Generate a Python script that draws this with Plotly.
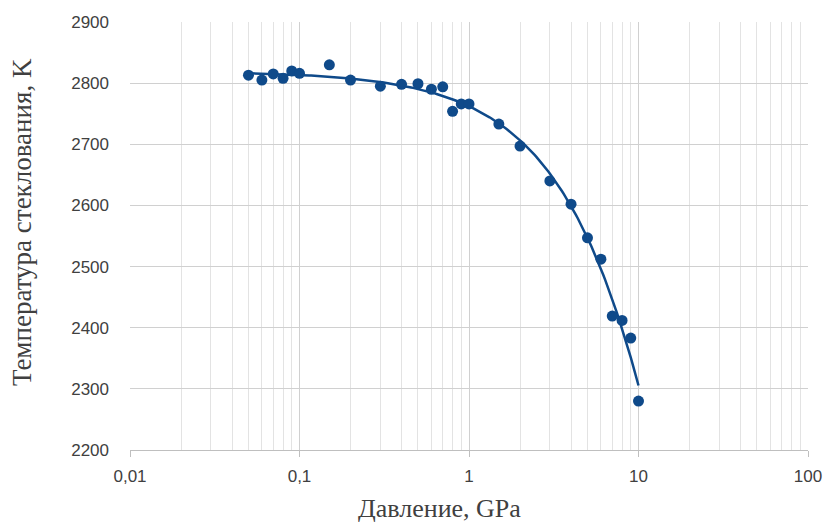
import numpy as np
import plotly.graph_objects as go

pressure = [0.05, 0.06, 0.07, 0.08, 0.09, 0.1, 0.15, 0.2, 0.3, 0.4, 0.5, 0.6, 0.7,
            0.8, 0.9, 1.0, 1.5, 2, 3, 4, 5, 6, 7, 8, 9, 10]
temperature = [2813, 2805, 2815, 2808, 2820, 2816, 2830, 2805, 2795, 2798, 2799, 2790, 2794,
               2754, 2766, 2766, 2733, 2697, 2640, 2602, 2547, 2512, 2419, 2412, 2383, 2280]
x_tickvals = [0.01, 0.1, 1, 10, 100]
x_ticktext = ["0,01", "0,1", "1", "10", "100"]
y_tickvals = [2200, 2300, 2400, 2500, 2600, 2700, 2800, 2900]
x_title = "Давление, GPa"
y_title = "Температура стеклования, K"

color = "#0f4a8a"

# polynomial (order 2) trendline fitted to the data
coef = np.polyfit(pressure, temperature, 2)
xs = np.logspace(np.log10(min(pressure)), np.log10(max(pressure)), 200)
ys = np.polyval(coef, xs)

fig = go.Figure()
fig.add_trace(go.Scatter(x=xs, y=ys, mode="lines", line=dict(color=color, width=2.5),
                         hoverinfo="skip", showlegend=False))
fig.add_trace(go.Scatter(x=pressure, y=temperature, mode="markers",
                         marker=dict(color=color, size=11), showlegend=False))

serif = "Liberation Serif, Times New Roman"

fig.update_layout(
    width=827, height=524,
    margin=dict(l=130, r=19, t=22, b=74),
    paper_bgcolor="white", plot_bgcolor="white",
    font=dict(family="Liberation Sans, Arial", size=17, color="#404040"),
    annotations=[
        dict(text=x_title, xref="paper", yref="paper", x=0.457, y=-0.137,
             xanchor="center", yanchor="middle", showarrow=False,
             font=dict(family=serif, size=26, color="#404040")),
        dict(text=y_title, xref="paper", yref="paper", x=-0.159, y=0.533,
             xanchor="center", yanchor="middle", showarrow=False, textangle=-90,
             font=dict(family=serif, size=27, color="#404040")),
    ],
)
fig.update_xaxes(
    type="log", range=[-2, 2], automargin=False,
    tickvals=x_tickvals, ticktext=x_ticktext,
    showgrid=True, gridcolor="#d0d0d0", gridwidth=1.3,
    minor=dict(dtick="D1", showgrid=True, gridcolor="#e3e3e3", gridwidth=1, ticks=""),
    showline=True, linecolor="#bfbfbf", linewidth=1.3,
    ticks="outside", ticklen=6, tickcolor="#bfbfbf",
    ticklabelstandoff=4,
    zeroline=False,
)
fig.update_yaxes(
    range=[2200, 2900], tickvals=y_tickvals, automargin=False,
    showgrid=True, gridcolor="#d0d0d0", gridwidth=1.3,
    showline=False, zeroline=False,
    ticklabelstandoff=20,
)

fig.write_html(
    "out.html",
    config={"displayModeBar": False},
    post_script="document.body.style.margin='0';document.body.style.overflow='hidden';",
)
